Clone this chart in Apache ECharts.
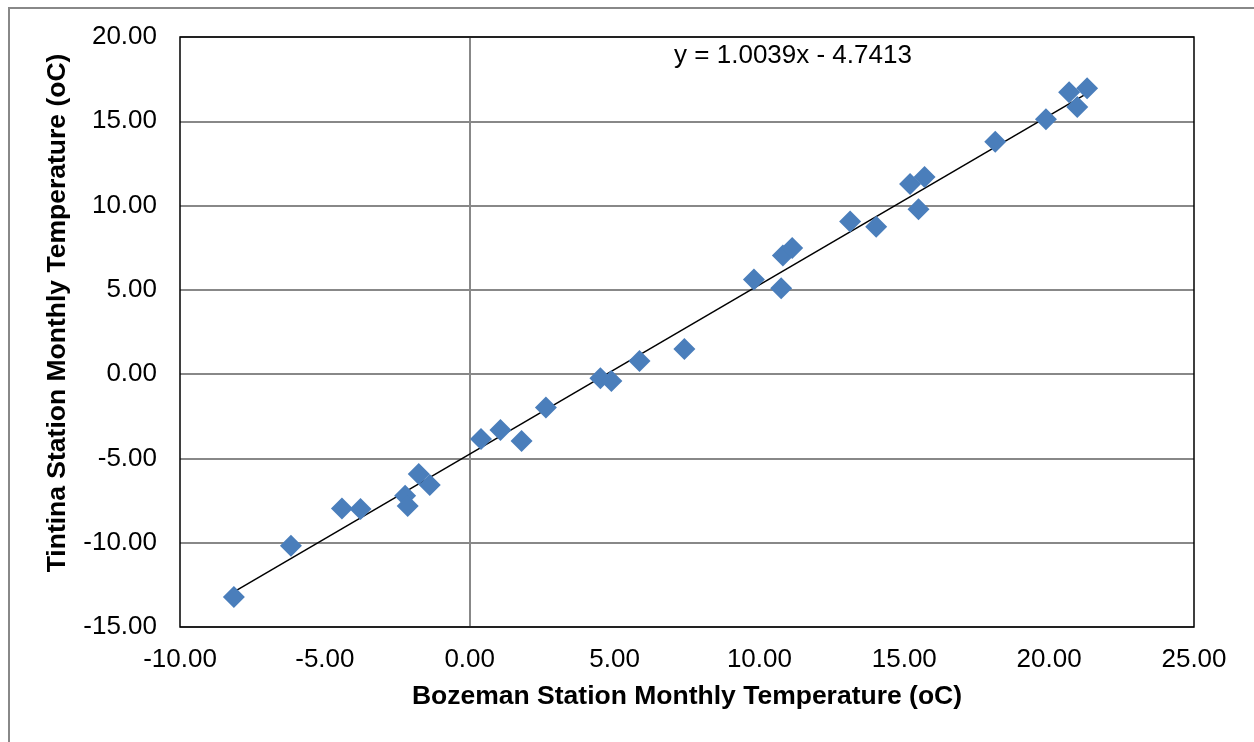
<!DOCTYPE html>
<html>
<head>
<meta charset="utf-8">
<script src="https://cdn.jsdelivr.net/npm/echarts@6/dist/echarts.min.js"></script>
<style>html,body{margin:0;padding:0;background:#fff;}#c{width:1254px;height:742px;}</style>
</head>
<body>
<div id="c"></div>
<script>
var bozeman = [-8.14,-6.17,-4.41,-3.77,-2.23,-2.14,-1.76,-1.38,0.39,1.06,1.79,2.63,4.51,4.89,5.86,7.41,9.81,10.75,10.81,11.13,13.13,14.03,15.20,15.49,15.70,18.14,19.89,20.69,20.97,21.31];
var tintina = [-13.22,-10.18,-7.97,-8.00,-7.22,-7.82,-5.93,-6.58,-3.85,-3.32,-3.96,-1.98,-0.25,-0.41,0.78,1.49,5.62,5.09,7.04,7.48,9.05,8.75,11.28,9.78,11.69,13.79,15.12,16.72,15.85,16.96];
var trendSlope = [1.0039];
var trendIntercept = [-4.7413];
var xTicks = [-10, 25, 5];
var yTicks = [-15, 20, 5];

var pts = bozeman.map(function(x, i){ return [x, tintina[i]]; });
var xMin = Math.min.apply(null, bozeman), xMax = Math.max.apply(null, bozeman);
var trend = [[xMin, trendSlope[0]*xMin + trendIntercept[0]], [xMax, trendSlope[0]*xMax + trendIntercept[0]]];
var font = '"Liberation Sans", Arial, sans-serif';

var chart = echarts.init(document.getElementById('c'));
chart.setOption({
  animation: false,
  backgroundColor: '#fff',
  grid: {left: 180, top: 37, right: 60, bottom: 115, show: true, borderColor: '#000', borderWidth: 1.5, backgroundColor: 'transparent', z: 3},
  xAxis: {
    type: 'value', min: xTicks[0], max: xTicks[1], interval: xTicks[2],
    axisLine: {show: false}, axisTick: {show: false}, splitLine: {show: false},
    axisLabel: {formatter: function(v){ return v.toFixed(2); }, fontFamily: font, fontSize: 26, color: '#000', margin: 20},
    name: 'Bozeman Station Monthly Temperature (oC)', nameLocation: 'middle', nameGap: 56,
    nameTextStyle: {fontFamily: font, fontSize: 26.5, fontWeight: 'bold', color: '#000'}
  },
  yAxis: {
    type: 'value', min: yTicks[0], max: yTicks[1], interval: yTicks[2],
    axisLine: {show: false}, axisTick: {show: false},
    splitLine: {show: true, lineStyle: {color: '#888', width: 2}},
    axisLabel: {formatter: function(v){ return v.toFixed(2); }, fontFamily: font, fontSize: 26, color: '#000', margin: 23}
  },
  graphic: [
    {type: 'rect', shape: {x: 9, y: 8, width: 1400, height: 900}, style: {fill: 'none', stroke: '#888', lineWidth: 2}, z: 0, silent: true},
    {type: 'text', x: 58, y: 313, rotation: Math.PI / 2,
     style: {text: 'Tintina Station Monthly Temperature (oC)', fontFamily: font, fontSize: 26.5, fontWeight: 'bold', fill: '#000', align: 'center', verticalAlign: 'middle'}, z: 10},
    {type: 'text', x: 793, y: 56, style: {text: 'y = 1.0039x - 4.7413', fontFamily: font, fontSize: 26, fill: '#000', align: 'center', verticalAlign: 'middle'}, z: 10}
  ],
  series: [
    {
      type: 'line', data: trend, symbol: 'none', lineStyle: {color: '#000', width: 1.5}, z: 2, silent: true,
      markLine: {silent: true, symbol: 'none', label: {show: false}, lineStyle: {color: '#888', width: 2, type: 'solid'}, data: [{xAxis: 0}], z: 1}
    },
    {
      type: 'scatter', data: pts, symbol: 'diamond', symbolSize: [22, 22],
      itemStyle: {color: '#4a7ebb', opacity: 1}, z: 3
    }
  ]
});
</script>
</body>
</html>
